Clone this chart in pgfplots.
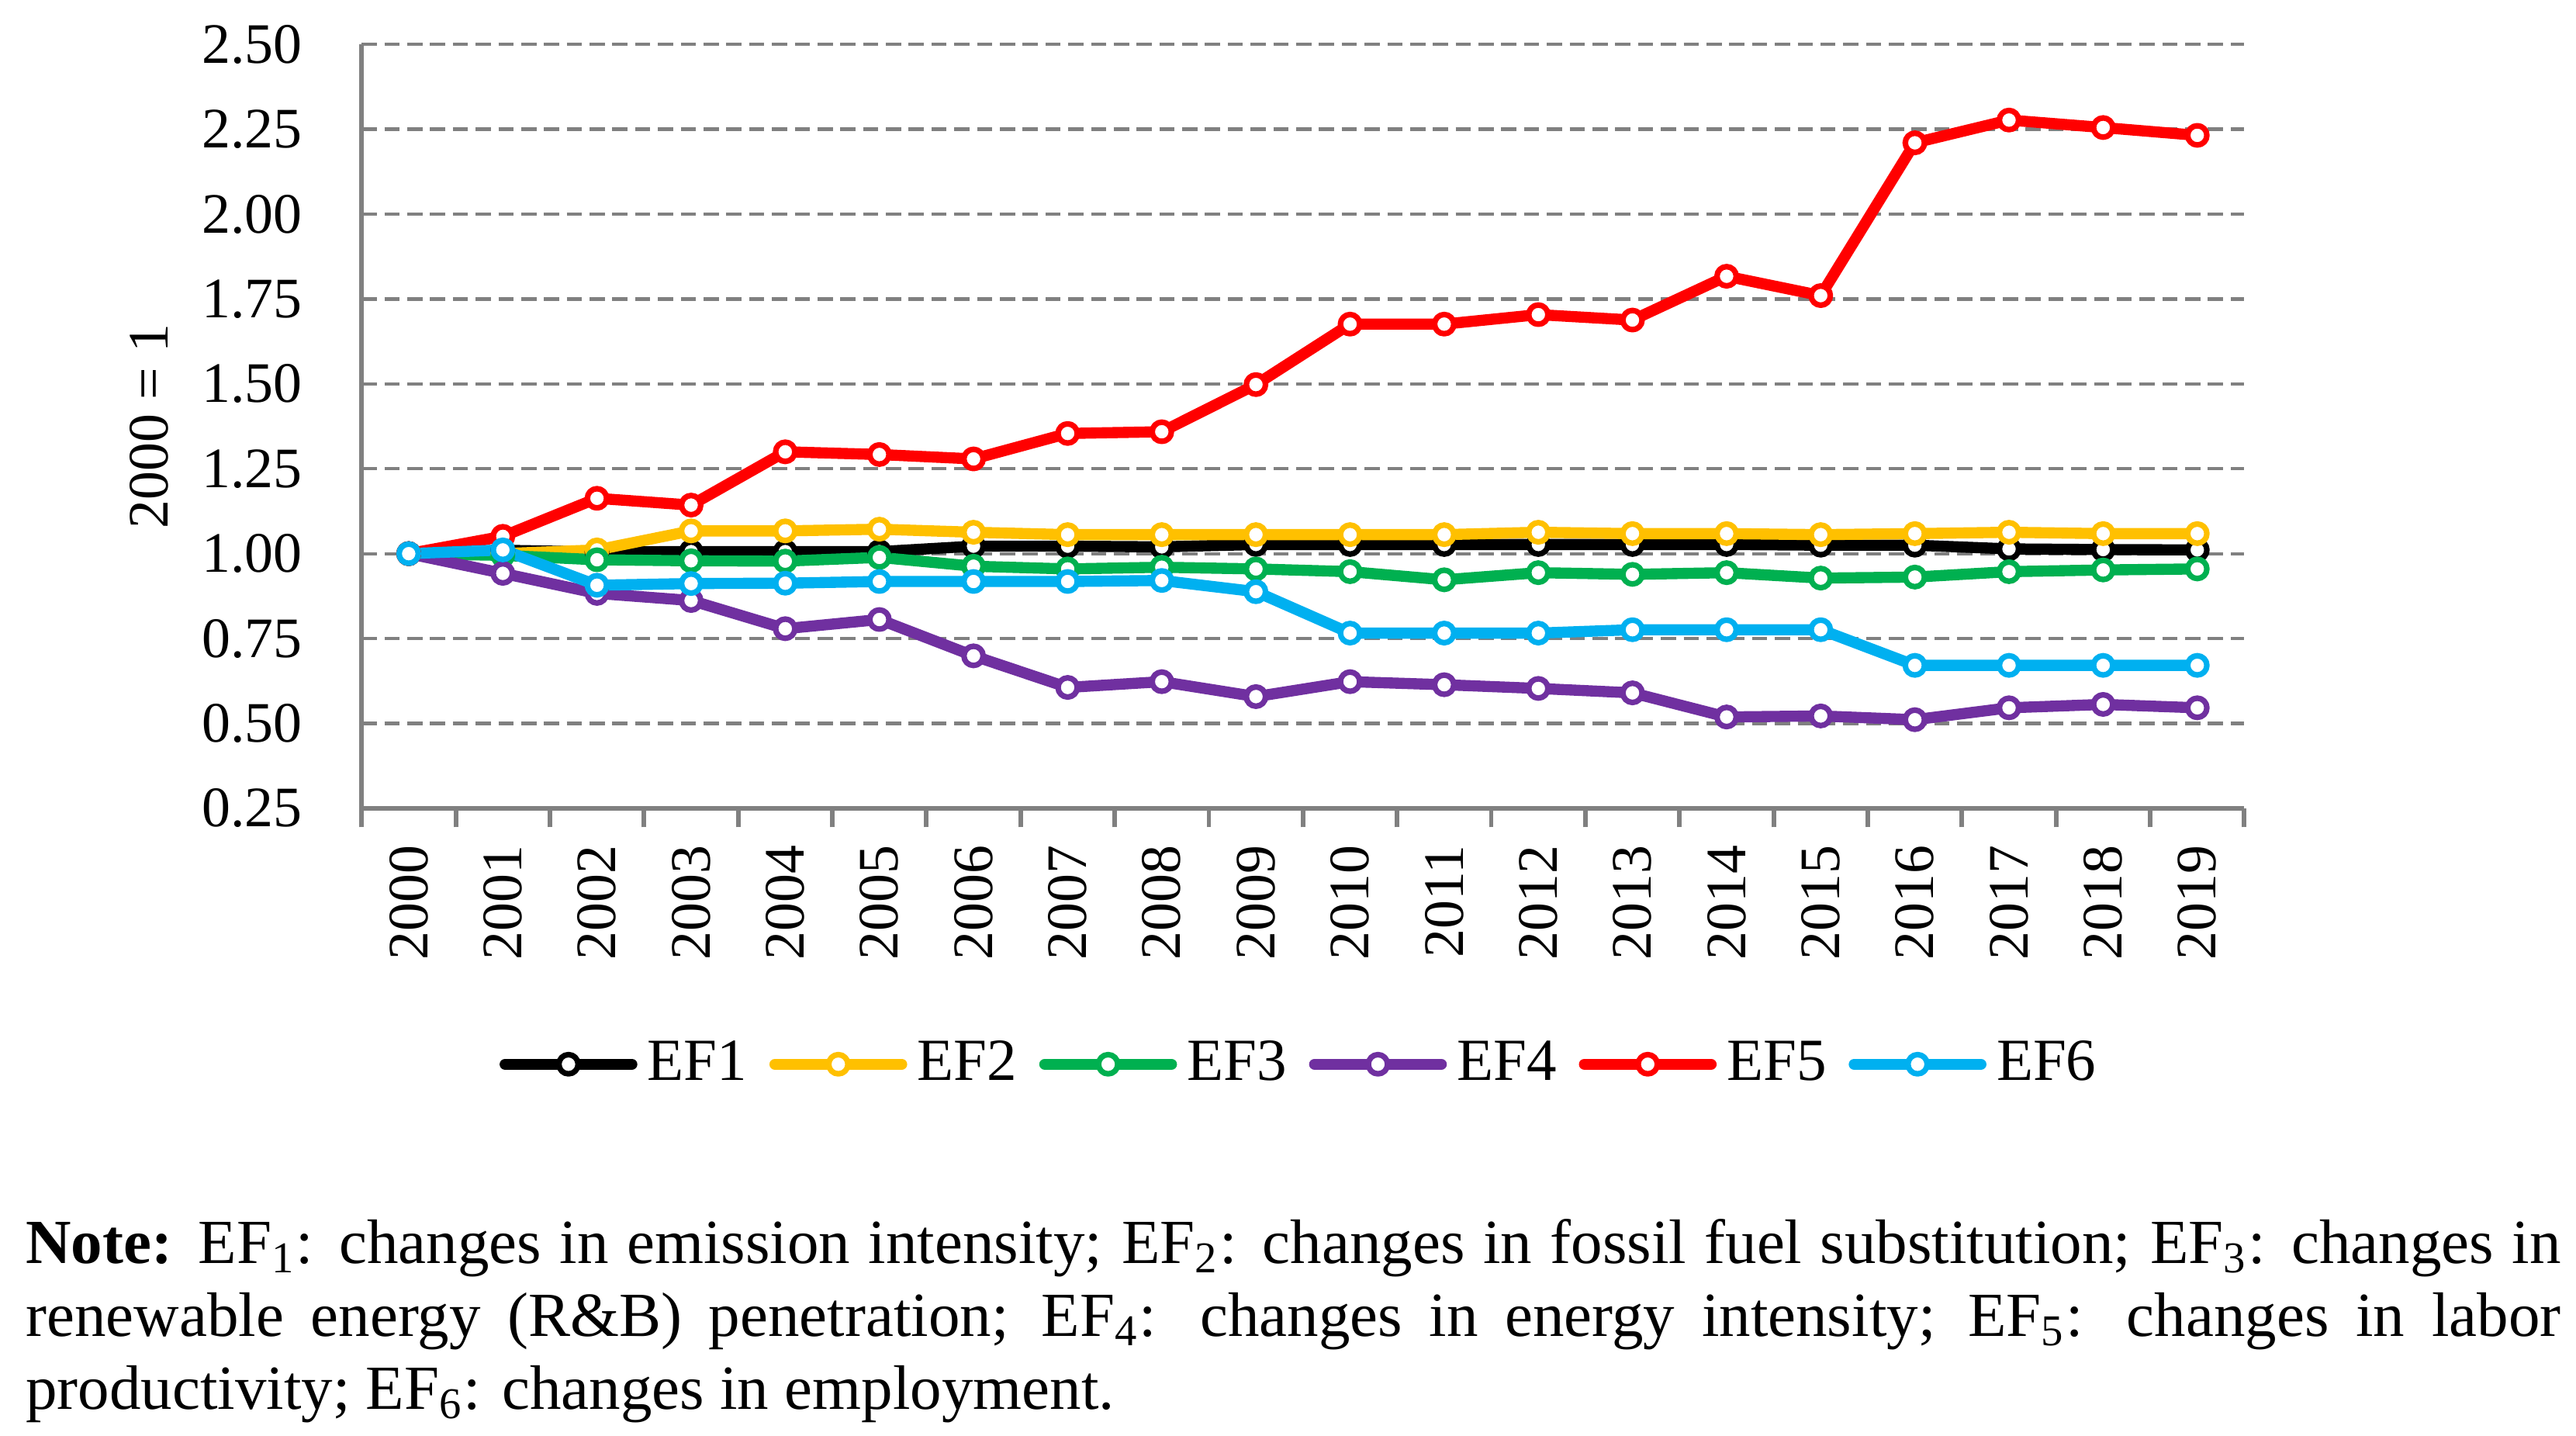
\documentclass[border=0pt]{standalone}
\usepackage{fontspec}
\setmainfont{Liberation Serif}
\usepackage{pgfplots}
\pgfplotsset{compat=1.18}
\usepackage{pgfplotstable}

\definecolor{ef2}{RGB}{255,192,0}
\definecolor{ef3}{RGB}{0,176,80}
\definecolor{ef4}{RGB}{112,48,160}
\definecolor{ef5}{RGB}{255,0,0}
\definecolor{ef6}{RGB}{0,176,240}
\definecolor{axgray}{RGB}{128,128,128}

% i = year - 2000
\pgfplotstableread{
i  ef1   ef2   ef3   ef4   ef5   ef6
0  1.000 1.000 1.000 1.000 1.000 1.000
1  1.010 1.000 0.995 0.942 1.051 1.011
2  1.005 1.011 0.982 0.883 1.163 0.907
3  1.006 1.067 0.979 0.862 1.143 0.912
4  1.006 1.067 0.978 0.779 1.300 0.913
5  1.006 1.072 0.989 0.806 1.292 0.918
6  1.022 1.063 0.963 0.699 1.279 0.918
7  1.022 1.056 0.955 0.606 1.354 0.918
8  1.020 1.056 0.960 0.623 1.359 0.921
9  1.027 1.056 0.955 0.579 1.498 0.888
10 1.027 1.056 0.947 0.623 1.676 0.766
11 1.027 1.056 0.923 0.614 1.676 0.766
12 1.027 1.063 0.944 0.603 1.704 0.766
13 1.027 1.059 0.939 0.590 1.688 0.776
14 1.027 1.059 0.944 0.519 1.817 0.776
15 1.025 1.056 0.928 0.522 1.760 0.776
16 1.025 1.059 0.931 0.511 2.210 0.671
17 1.014 1.063 0.947 0.546 2.277 0.671
18 1.012 1.059 0.952 0.556 2.255 0.671
19 1.011 1.059 0.955 0.546 2.232 0.671
}\effects

\begin{document}
\begin{tikzpicture}
\useasboundingbox (0,0) rectangle (508.58pt,283.46pt);
\begin{axis}[
    at={(71.4pt,123.9pt)}, anchor=south west,
    scale only axis, width=371.7pt, height=150.8pt,
    xmin=-0.5, xmax=19.5, ymin=0.25, ymax=2.5,
    axis x line*=bottom, axis y line*=left,
    axis line style={axgray, line width=0.9pt, -},
    xtick={-0.5,0.5,...,19.5},
    x tick label as interval,
    xticklabels={2000,2001,2002,2003,2004,2005,2006,2007,2008,2009,2010,2011,2012,2013,2014,2015,2016,2017,2018,2019},
    x tick label style={rotate=90, anchor=east},
    tick align=outside,
    major tick length=3.75pt,
    xtick style={axgray, line width=0.9pt},
    ytick={0.25,0.5,0.75,1,1.25,1.5,1.75,2,2.25,2.5},
    ytick style={draw=none},
    yticklabel style={xshift=-4.5pt, /pgf/number format/.cd, fixed, fixed zerofill, precision=2},
    /pgf/number format/assume math mode=true,
    ymajorgrids,
    grid style={axgray, line width=0.65pt, dash pattern=on 3pt off 1.5pt},
    tick label style={font=\fontsize{11.3}{13}\selectfont},
    ylabel={2000 = 1},
    ylabel style={at={(axis description cs:-0.113,0.5)}, anchor=center, font=\fontsize{11.3}{13}\selectfont},
    every axis plot/.append style={line width=2.2pt, line join=round, line cap=round, mark=*, mark size=1.9pt},
    legend style={draw=none, at={(0.5,-0.335)}, anchor=center, legend columns=-1,
      font=\fontsize{11.8}{13}\selectfont,
      /tikz/every even column/.append style={column sep=2.4pt}},
    legend image code/.code={\draw[mark repeat=2,mark phase=2] plot coordinates {(0pt,0pt)(12.5pt,0pt)(25pt,0pt)};},
]
\addplot[black, mark options={fill=white, line width=1.1pt}] table[x=i, y=ef1] {\effects};
\addplot[ef2, mark options={fill=white, line width=1.1pt}] table[x=i, y=ef2] {\effects};
\addplot[ef3, mark options={fill=white, line width=1.1pt}] table[x=i, y=ef3] {\effects};
\addplot[ef4, mark options={fill=white, line width=1.1pt}] table[x=i, y=ef4] {\effects};
\addplot[ef5, mark options={fill=white, line width=1.1pt}] table[x=i, y=ef5] {\effects};
\addplot[ef6, mark options={fill=white, line width=1.1pt}] table[x=i, y=ef6] {\effects};
\legend{EF1,EF2,EF3,EF4,EF5,EF6}
\end{axis}
\node[anchor=north west, inner sep=0pt, text width=500.5pt, align=justify,
      font=\fontsize{12.4}{14.4}\selectfont] at (4.9pt,43pt)
  {\textbf{Note:} EF\textsubscript{1}: changes in emission intensity; EF\textsubscript{2}: changes in fossil fuel substitution; EF\textsubscript{3}: changes in\linebreak
   renewable energy (R\&B) penetration; EF\textsubscript{4}: changes in energy intensity; EF\textsubscript{5}: changes in labor\linebreak
   productivity; EF\textsubscript{6}: changes in employment.};
\end{tikzpicture}
\end{document}
